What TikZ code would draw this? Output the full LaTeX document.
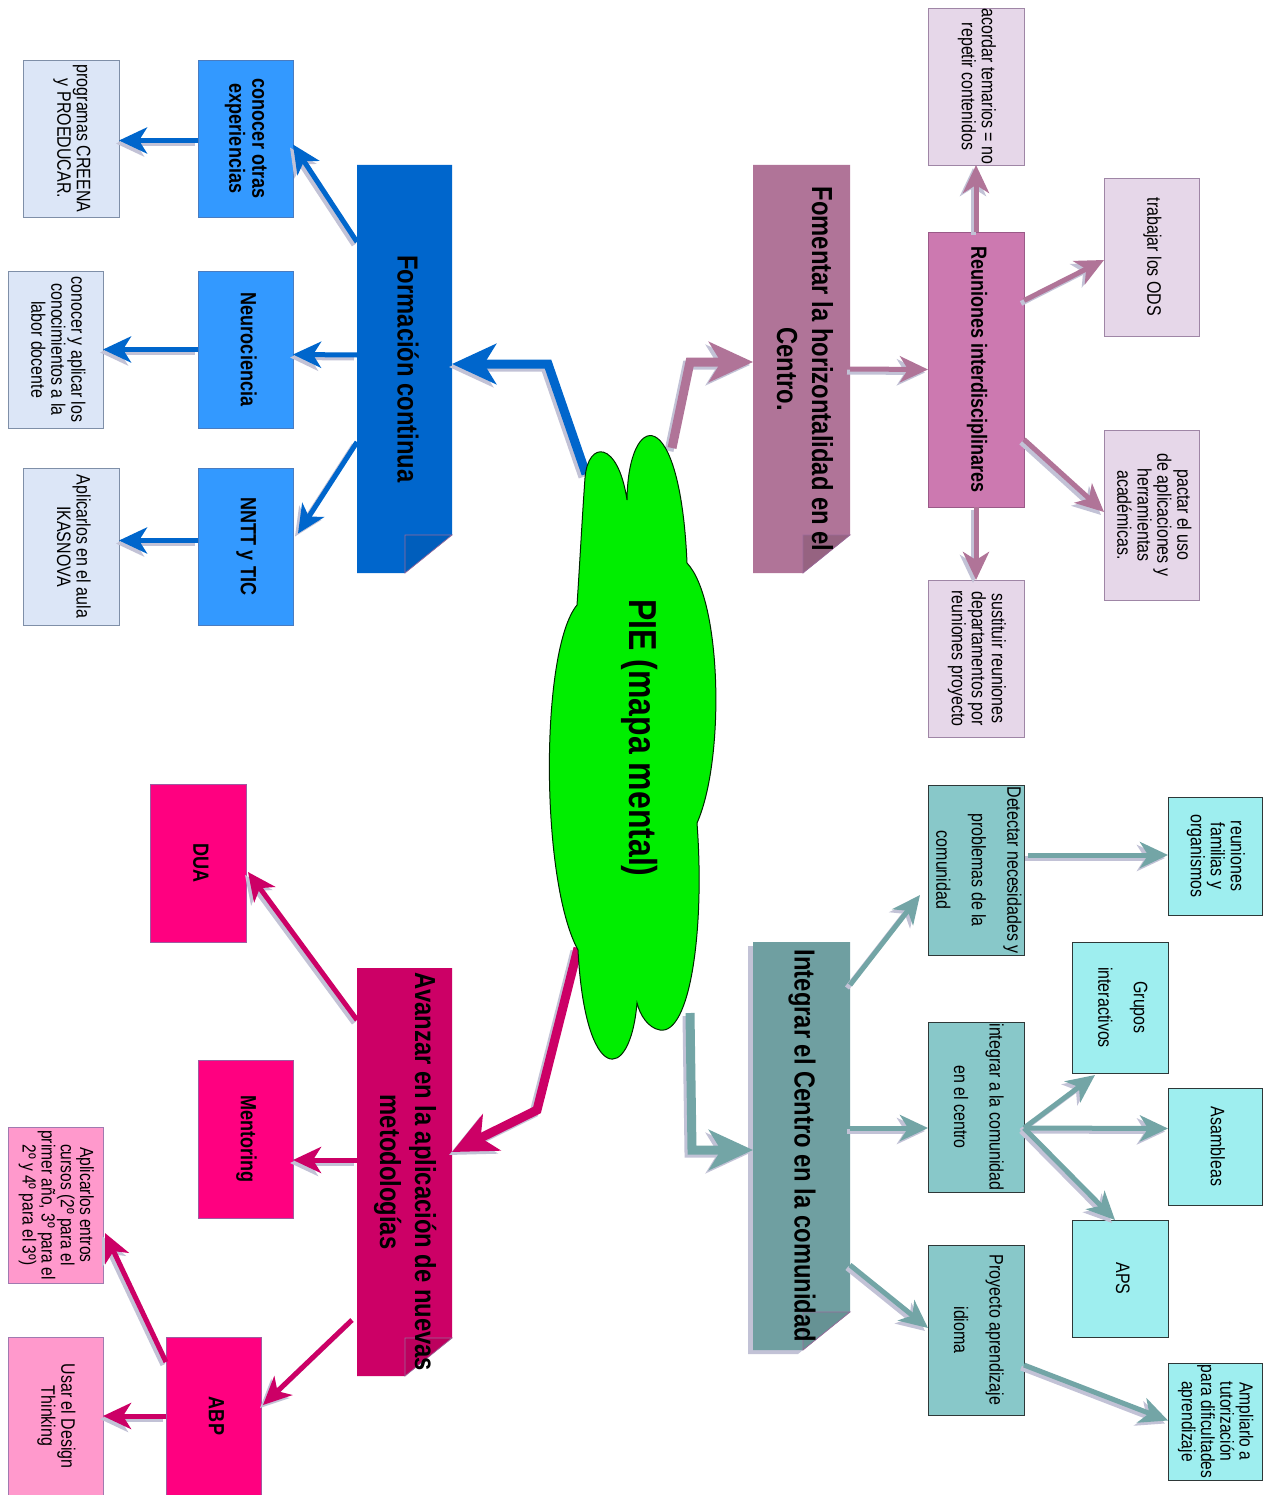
\documentclass[tikz,border=0pt]{standalone}
\usepackage{fontspec}
\usepackage{graphicx}
\setmainfont{Liberation Sans}[FakeStretch=0.82]
\usetikzlibrary{arrows.meta,calc}
\pgfdeclarelayer{bg}
\pgfdeclarelayer{paper}
\pgfsetlayers{paper,bg,main}
\definecolor{cBmain}{HTML}{0066CC}
\definecolor{cBsub}{HTML}{3399FF}
\definecolor{cBsubD}{HTML}{4A7CC0}
\definecolor{cBleaf}{HTML}{DCE6F7}
\definecolor{cBleafD}{HTML}{7F8FA8}
\definecolor{cMv}{HTML}{B07498}
\definecolor{cReu}{HTML}{CC79B0}
\definecolor{cReuD}{HTML}{9A5A88}
\definecolor{cLav}{HTML}{E6D7E9}
\definecolor{cLavD}{HTML}{9F86A6}
\definecolor{cTmain}{HTML}{6F9FA1}
\definecolor{cTsub}{HTML}{88C8C9}
\definecolor{cTd}{HTML}{2E3838}
\definecolor{cCy}{HTML}{9EEEEF}
\definecolor{cTarr}{HTML}{73A5A6}
\definecolor{cMg}{HTML}{CC0066}
\definecolor{cMsub}{HTML}{FF0080}
\definecolor{cMsubD}{HTML}{A05AA0}
\definecolor{cPink}{HTML}{FF99CC}
\definecolor{cPinkD}{HTML}{A07AB0}
\definecolor{cCloud}{HTML}{00EE00}
\definecolor{shc}{HTML}{C2C2D6}
\definecolor{foldline}{HTML}{9A6A9A}
\newcommand\rt[1]{\rotatebox{-90}{\begin{tabular}{@{}c@{}}#1\end{tabular}}}
\newcommand\sarr[2]{\draw[#1,draw=shc,transform canvas={xshift=-3pt,yshift=-3pt}] #2;\draw[#1] #2;}
\newcommand\foldbox[3]{\begin{pgfonlayer}{bg}
 \fill[#2] (#1.north west) -- (#1.north east) -- ($(#1.south east)+(0,-38)$) -- ($(#1.south east)+(-47,0)$) -- (#1.south west) -- cycle;
 \filldraw[fill=#3, draw=foldline, line width=0.7pt] ($(#1.south east)+(-47,-38)$) -- ($(#1.south east)+(0,-38)$) -- ($(#1.south east)+(-47,0)$) -- cycle;
 \end{pgfonlayer}}
\tikzset{
 bx/.style={rectangle, inner sep=0pt, outer sep=0pt, line width=0.8pt, text=black},
 sz/.style 2 args={minimum width=#1pt, minimum height=#2pt},
 tfont/.style={font=\fontsize{29}{35}\selectfont\bfseries},
 bfont/.style={font=\fontsize{22}{23}\selectfont\bfseries},
 lfont/.style={font=\fontsize{19.5}{19.5}\selectfont},
 nfont/.style={font=\fontsize{19}{18}\selectfont},
 mainbox/.style={bx, tfont},
 bluesub/.style={bx, bfont, fill=cBsub, draw=cBsubD},
 blueleaf/.style={bx, lfont, fill=cBleaf, draw=cBleafD},
 reubox/.style={bx, bfont, fill=cReu, draw=cReuD},
 lavleaf/.style={bx, lfont, fill=cLav, draw=cLavD},
 tealsub/.style={bx, lfont, fill=cTsub, draw=cTd},
 cyanleaf/.style={bx, lfont, fill=cCy, draw=cTd},
 magsub/.style={bx, bfont, fill=cMsub, draw=cMsubD},
 pinkleaf/.style={bx, lfont, fill=cPink, draw=cPinkD},
 mainarr/.style={line width=9pt, line join=miter, -{Stealth[length=44pt,width=40pt,inset=12pt]}},
 subarr/.style={line width=5pt, -{Stealth[length=28pt,width=26pt,inset=8pt]}},
}
\begin{document}
\begin{tikzpicture}[x=1pt,y=-1pt]
\begin{pgfonlayer}{paper}
\fill[white] (0,0) rectangle (1270,1495);
\end{pgfonlayer}
\useasboundingbox (0,0) rectangle (1270,1495);

% ---------- Formacion continua (blue)
\node[mainbox, sz={95}{408}] (fc) at (404.5,369) {\rt{Formación continua}};
\foldbox{fc}{cBmain}{cBmain!92!black}
\node[bluesub, sz={95}{157}] (co) at (245.5,138.5) {\rt{conocer otras\\experiencias}};
\node[bluesub, sz={95}{157}] (ne) at (245.5,349.5) {\rt{Neurociencia}};
\node[bluesub, sz={95}{157}] (nt) at (245.5,546.5) {\rt{NNTT y TIC}};
\node[blueleaf, sz={96}{157}] (pc) at (71,138.5) {\rt{programas CREENA\\y PROEDUCAR.}};
\node[blueleaf, sz={95}{157}] (ca) at (55.5,349.5) {\rt{conocer y aplicar los\\conocimientos a la\\labor docente}};
\node[blueleaf, sz={96}{157}] (ik) at (71,546.5) {\rt{Aplicarlos en el aula\\IKASNOVA}};

% ---------- Fomentar (mauve)
\node[mainbox, sz={97}{408}] (fh) at (801.5,369) {\rt{Fomentar la horizontalidad en el\\Centro.}};
\foldbox{fh}{cMv}{cMv!85!black}
\node[reubox, sz={96}{275}] (ri) at (976,369.5) {\rt{Reuniones interdisciplinares}};
\node[lavleaf, sz={96}{157}] (acor) at (976,86.5) {\rt{acordar temarios = no\\repetir contenidos}};
\node[lavleaf, sz={95}{158}] (od) at (1151.5,257) {\rt{trabajar los ODS}};
\node[lavleaf, sz={95}{170}] (pa) at (1151.5,515) {\rt{pactar el uso\\de aplicaciones y\\herramientas\\académicas.}};
\node[lavleaf, sz={96}{157}] (su) at (976,658.5) {\rt{sustituir reuniones\\departamentos por\\reuniones proyecto}};

% ---------- Integrar (teal)
\node[mainbox, sz={97}{408}] (ic) at (801.5,1146) {\rt{Integrar el Centro en la comunidad}};
\begin{pgfonlayer}{bg}
\fill[shc, transform canvas={xshift=-5pt,yshift=-4pt}] (ic.north west) -- (ic.north east) -- ($(ic.south east)+(0,-38)$) -- ($(ic.south east)+(-47,0)$) -- (ic.south west) -- cycle;
\end{pgfonlayer}
\foldbox{ic}{cTmain}{cTmain!92!black}
\node[tealsub, sz={96}{170}] (dn) at (976,870) {\rt{Detectar necesidades y\\[15.5pt]problemas de la\\[15.5pt]comunidad}};
\node[tealsub, sz={96}{170}] (ia) at (976,1107) {\rt{integrar a la comunidad\\[15.5pt]en el centro}};
\node[tealsub, sz={96}{170}] (pi) at (976,1330) {\rt{Proyecto aprendizaje\\[15.5pt]idioma}};
\node[cyanleaf, sz={94}{118}] (rf) at (1215,856) {\rt{reuniones\\familias y\\organismos}};
\node[cyanleaf, sz={96}{131}] (gi) at (1120,1007.5) {\rt{Grupos\\[15.5pt]interactivos}};
\node[cyanleaf, sz={94}{117}] (asam) at (1215,1146.5) {\rt{Asambleas}};
\node[cyanleaf, sz={96}{117}] (ap) at (1120,1278.5) {\rt{APS}};
\node[cyanleaf, nfont, sz={94}{117}] (am) at (1215,1421.5) {\rt{Ampliarlo a\\tutorización\\para dificultades\\aprendizaje}};

% ---------- Avanzar (magenta)
\node[mainbox, sz={95}{408}] (av) at (404.5,1172) {\rt{Avanzar en la aplicación de nuevas\\metodologías}};
\foldbox{av}{cMg}{cMg!92!black}
\node[magsub, sz={96}{158}] (du) at (198,863) {\rt{DUA}};
\node[magsub, sz={95}{158}] (me) at (245.5,1139) {\rt{Mentoring}};
\node[magsub, sz={95}{158}] (ab) at (213.5,1416) {\rt{ABP}};
\node[pinkleaf, nfont, sz={95}{156}] (apc) at (55.5,1205) {\rt{Aplicarlos entros\\cursos (2º para el\\primer año, 3º para el\\2º y 4º para el 3º)}};
\node[pinkleaf, sz={95}{158}] (ud) at (55.5,1416) {\rt{Usar el Design\\Thinking}};

% ---------- cloud attach points
\coordinate (cB) at (586,474);
\coordinate (cM) at (672,448);
\coordinate (cT) at (690,1013);
\coordinate (cA) at (578,948);

% ---------- connectors
\sarr{mainarr,cBmain}{(cB) -- ($(fc.east)+(96,-5)$) -- ($(fc.east)+(0,-5)$)}
\sarr{subarr,cBmain}{($(fc.west)+(0,-127)$) -- ($(co.east)+(0,6)$)}
\sarr{subarr,cBmain}{($(fc.west)+(0,-14)$) -- ($(ne.east)+(0,5)$)}
\sarr{subarr,cBmain}{($(fc.west)+(0,73)$) -- ($(nt.east)+(5,-13)$)}
\sarr{subarr,cBmain}{($(co.west)+(0,2)$) -- ($(pc.east)+(0,2)$)}
\sarr{subarr,cBmain}{(ne.west) -- (ca.east)}
\sarr{subarr,cBmain}{($(nt.west)+(0,-6)$) -- ($(ik.east)+(0,-6)$)}

\sarr{mainarr,cMv}{(cM) -- ($(fh.west)+(-63,-7)$) -- ($(fh.west)+(0,-7)$)}
\sarr{subarr,cMv}{(fh.east) -- (ri.west)}
\sarr{subarr,cMv}{(ri.north) -- (acor.south)}
\sarr{subarr,cMv}{($(ri.east)+(0,-69)$) -- ($(od.west)+(0,3)$)}
\sarr{subarr,cMv}{($(ri.east)+(0,70)$) -- ($(pa.west)+(0,-3)$)}
\sarr{subarr,cMv}{(ri.south) -- (su.north)}

\sarr{mainarr,cTarr}{(cT) -- ($(ic.west)+(-61,4)$) -- ($(ic.west)+(0,4)$)}
\sarr{subarr,cTarr}{($(ic.east)+(0,-161)$) -- ($(dn.west)+(-8,25)$)}
\sarr{subarr,cTarr}{($(ic.east)+(0,-18)$) -- ($(ia.west)+(0,21)$)}
\sarr{subarr,cTarr}{($(ic.east)+(0,119)$) -- ($(pi.west)+(0,-2)$)}
\sarr{subarr,cTarr}{($(dn.east)+(4,-15)$) -- ($(rf.west)+(0,-1)$)}
\sarr{subarr,cTarr}{($(ia.east)+(0,21)$) -- ($(gi.south)+(-25,2)$)}
\sarr{subarr,cTarr}{($(ia.east)+(0,21)$) -- ($(asam.west)+(0,-18)$)}
\sarr{subarr,cTarr}{($(ia.east)+(0,21)$) -- ($(ap.north)+(-5,0)$)}
\sarr{subarr,cTarr}{($(pi.east)+(0,35)$) -- ($(am.west)+(0,-1)$)}

\sarr{mainarr,cMg}{(cA) -- ($(av.east)+(85,-62)$) -- ($(av.east)+(0,-20)$)}
\sarr{subarr,cMg}{($(av.west)+(0,-152)$) -- ($(du.east)+(2,9)$)}
\sarr{subarr,cMg}{($(av.west)+(0,-12)$) -- ($(me.east)+(0,21)$)}
\sarr{subarr,cMg}{($(av.west)+(-5,148)$) -- ($(ab.east)+(2,-11)$)}
\sarr{subarr,cMg}{($(ab.west)+(0,-54)$) -- ($(apc.east)+(2,28)$)}
\sarr{subarr,cMg}{(ab.west) -- (ud.east)}

% ---------- central cloud
\filldraw[fill=cCloud, draw=black!85!green, line width=1pt]
 (585,478) .. controls (588,440) and (618,440) .. (627,500)
 .. controls (628,410) and (680,400) .. (687,563)
 .. controls (722,600) and (725,760) .. (697,823)
 .. controls (705,930) and (690,1035) .. (660,1030)
 .. controls (648,1028) and (640,1015) .. (637,1003)
 .. controls (630,1085) and (585,1085) .. (578,950)
 .. controls (540,880) and (540,650) .. (577,605)
 .. controls (580,560) and (582,520) .. (585,478) -- cycle;
\node[font=\fontsize{39}{39}\selectfont\bfseries] (pie) at (640,738) {\rotatebox{-90}{PIE (mapa mental)}};
\end{tikzpicture}
\end{document}
